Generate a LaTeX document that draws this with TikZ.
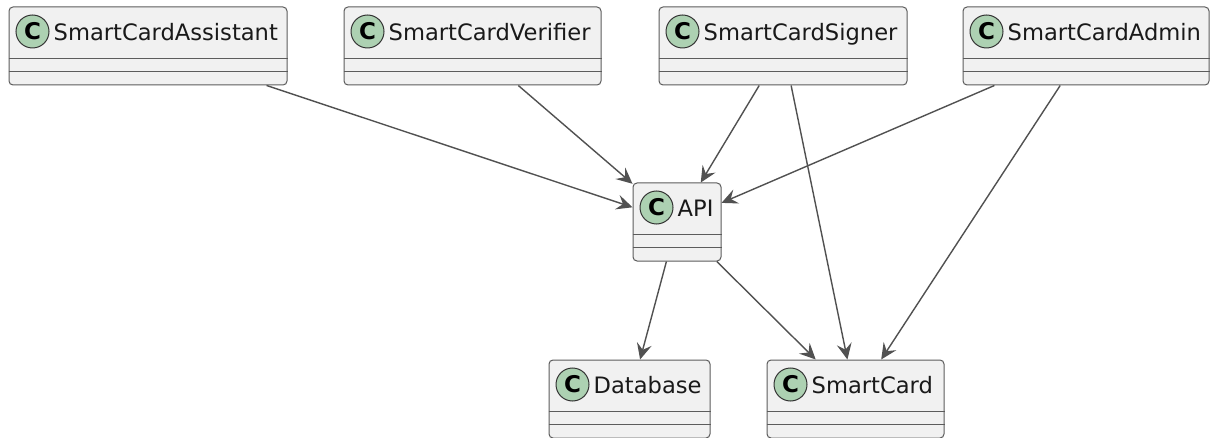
\documentclass[tikz,border=0pt]{standalone}
\usepackage{fontspec}
\setmainfont{DejaVu Sans}
\usetikzlibrary{arrows.meta}
\definecolor{boxfill}{HTML}{F1F1F1}
\definecolor{boxline}{HTML}{5C5C5C}
\definecolor{spotfill}{HTML}{ADD1B2}
\definecolor{edgecol}{HTML}{515151}
\tikzset{
  cls/.style={draw=boxline, fill=boxfill, rounded corners=4pt, line width=1pt, inner sep=0pt},
  spot/.style={circle, draw=black!80, fill=spotfill, line width=1pt, minimum size=33pt, inner sep=0pt,
    font=\fontsize{23}{23}\selectfont\bfseries},
  title/.style={anchor=base west, inner sep=0pt, font=\fontsize{22.6}{27}\selectfont, text=black!90},
  sep/.style={draw=boxline, line width=1pt},
  rel/.style={draw=edgecol, line width=1.4pt, -{Stealth[length=16pt, width=15pt, inset=6pt]}},
}
% #1 name, #2 centre x, #3 top y, #4 width, #5 class name
\newcommand\umlclass[5]{%
  \node[cls, minimum width=#4pt, minimum height=78pt] (#1) at (#2, #3+39) {};
  \draw[sep] ([yshift=-52pt]#1.north west) -- ([yshift=-52pt]#1.north east);
  \draw[sep] ([yshift=-65pt]#1.north west) -- ([yshift=-65pt]#1.north east);
  \node[spot] (#1-spot) at ([xshift=24pt, yshift=-25pt]#1.north west) {C};
  \node[title] (#1-name) at ([xshift=45pt, yshift=-34pt]#1.north west) {#5};
}
\begin{document}
\begin{tikzpicture}[x=1pt, y=-1pt]
  \useasboundingbox (0,0) rectangle (1217,438);
  \fill[white] (0,0) rectangle (1217,438);

  \umlclass{sca}{148}{7}{278}{SmartCardAssistant}
  \umlclass{scv}{472.5}{7}{257}{SmartCardVerifier}
  \umlclass{scs}{783}{7}{248}{SmartCardSigner}
  \umlclass{scadm}{1086}{7}{246}{SmartCardAdmin}
  \umlclass{api}{677}{183}{88}{API}
  \umlclass{db}{629.5}{360}{161}{Database}
  \umlclass{sc}{855.5}{360}{177}{SmartCard}

  \draw[rel] (sca) -- (api);
  \draw[rel] (scv) -- (api);
  \draw[rel] (scs) -- (api);
  \draw[rel] (scs) -- (sc);
  \draw[rel] (scadm) -- (api);
  \draw[rel] (scadm) -- (sc);
  \draw[rel] (api) -- (db);
  \draw[rel] (api) -- (sc);
\end{tikzpicture}
\end{document}
